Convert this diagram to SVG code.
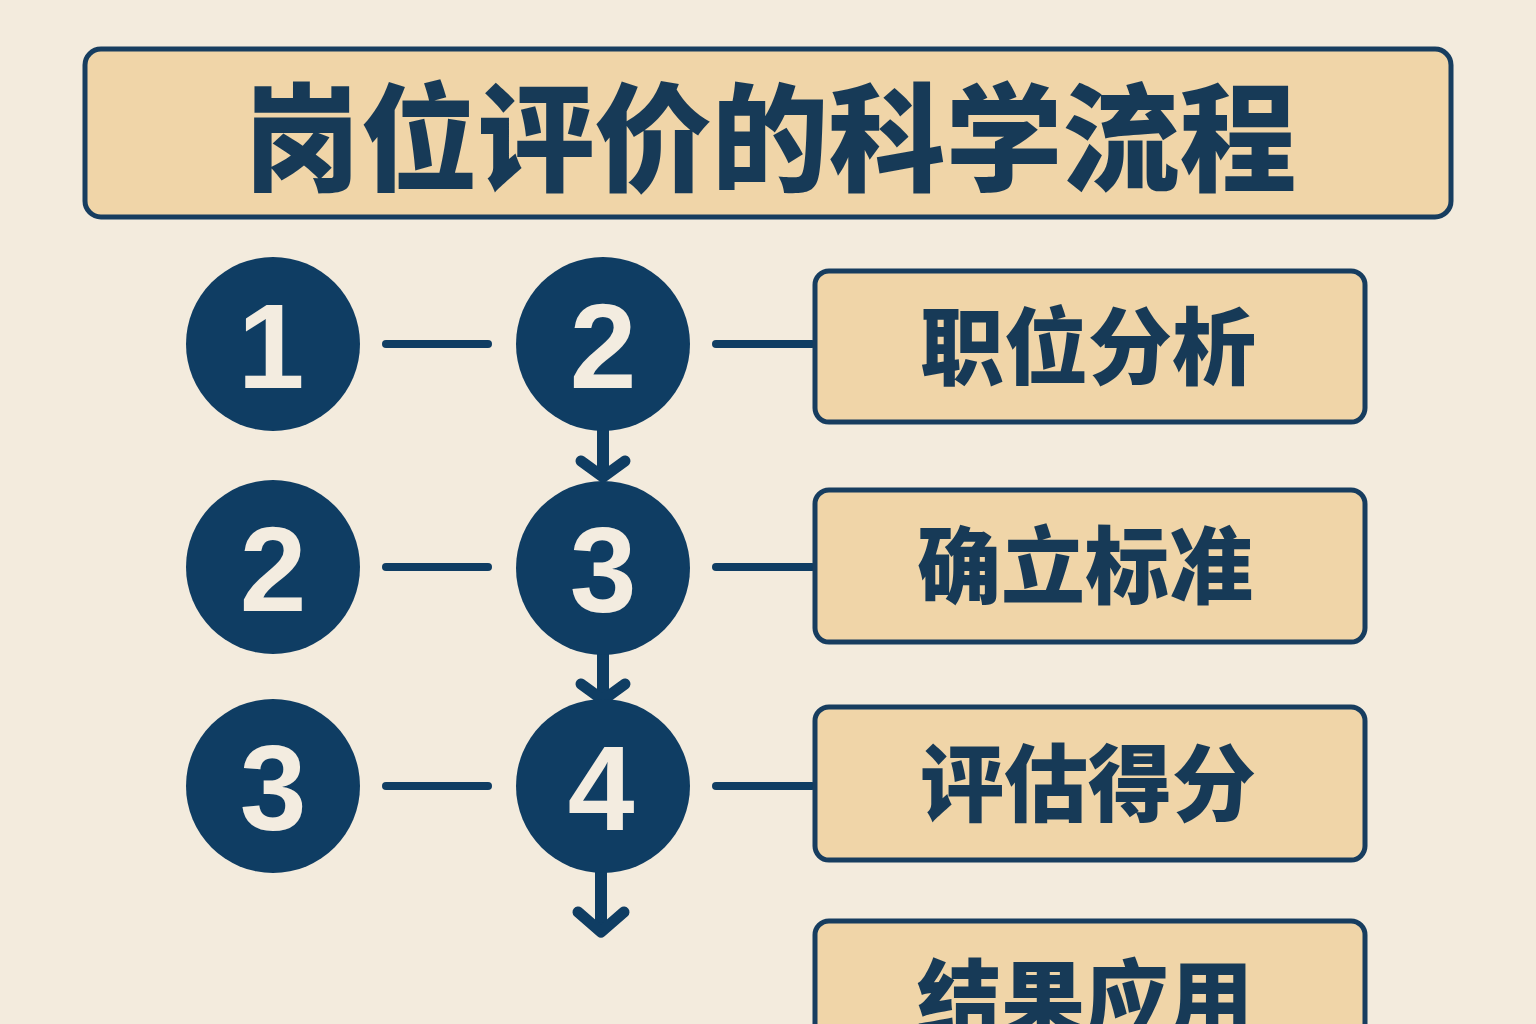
<svg xmlns="http://www.w3.org/2000/svg" width="1536" height="1024" viewBox="0 0 1536 1024">
<defs>
<style>
.bg{fill:#f3ebdd}
.box{fill:#f0d5a8;stroke:#173d5f;stroke-width:5}
.circ{fill:#0f3d63}
.num{font-family:"Liberation Sans","Noto Sans",sans-serif;font-weight:bold;font-size:120px;fill:#f3ece0;text-anchor:middle}
.lbl{font-family:"Noto Sans CJK SC","Noto Sans",sans-serif;font-weight:900;font-size:84px;fill:#173a57;text-anchor:middle}
.title{font-family:"Noto Sans CJK SC","Noto Sans",sans-serif;font-weight:900;font-size:117px;fill:#173a57;text-anchor:middle}
.link{stroke:#0f3d63;stroke-width:8;stroke-linecap:round;fill:none}
.vline{stroke:#0f3d63;stroke-width:12;fill:none}
.head{stroke:#0f3d63;stroke-width:11;stroke-linecap:round;stroke-linejoin:round;fill:none}
</style>
</defs>
<rect class="bg" x="0" y="0" width="1536" height="1024"/>
<g id="title">
<rect class="box" x="85" y="49" width="1366" height="168" rx="16"/>
<text class="title" x="770" y="182">岗位评价的科学流程</text>
</g>
<g id="connectors">
<line class="link" x1="386" y1="344" x2="488" y2="344"/>
<line class="link" x1="386" y1="567" x2="488" y2="567"/>
<line class="link" x1="386" y1="786" x2="488" y2="786"/>
<line class="link" x1="716" y1="344" x2="812" y2="344"/>
<line class="link" x1="716" y1="567" x2="812" y2="567"/>
<line class="link" x1="716" y1="786" x2="812" y2="786"/>
<line class="vline" x1="603" y1="425" x2="603" y2="478"/>
<path class="head" d="M581 461 L603 477 L625 461"/>
<line class="vline" x1="603" y1="648" x2="603" y2="697"/>
<path class="head" d="M581 684 L603 700 L625 684"/>
<line class="vline" x1="601" y1="866" x2="601" y2="930"/>
<path class="head" d="M578 912 L601 932 L624 912"/>
</g>
<g id="n1"><circle class="circ" cx="273" cy="344" r="87"/><text class="num" x="271" y="388">1</text></g>
<g id="n2a"><circle class="circ" cx="273" cy="567" r="87"/><text class="num" x="273" y="611">2</text></g>
<g id="n3a"><circle class="circ" cx="273" cy="786" r="87"/><text class="num" x="273" y="830">3</text></g>
<g id="n2b"><circle class="circ" cx="603" cy="344" r="87"/><text class="num" x="603" y="388">2</text></g>
<g id="n3b"><circle class="circ" cx="603" cy="568" r="87"/><text class="num" x="603" y="612">3</text></g>
<g id="n4b"><circle class="circ" cx="603" cy="786" r="87"/><text class="num" x="601" y="830">4</text></g>
<g id="b1"><rect class="box" x="815" y="271" width="550" height="151" rx="14"/><text class="lbl" x="1088" y="378">职位分析</text></g>
<g id="b2"><rect class="box" x="815" y="490" width="550" height="152" rx="14"/><text class="lbl" x="1085" y="597">确立标准</text></g>
<g id="b3"><rect class="box" x="815" y="707" width="550" height="153" rx="14"/><text class="lbl" x="1088" y="815">评估得分</text></g>
<g id="b4"><rect class="box" x="815" y="921" width="550" height="150" rx="14"/><text class="lbl" x="1085" y="1030">结果应用</text></g>
</svg>
